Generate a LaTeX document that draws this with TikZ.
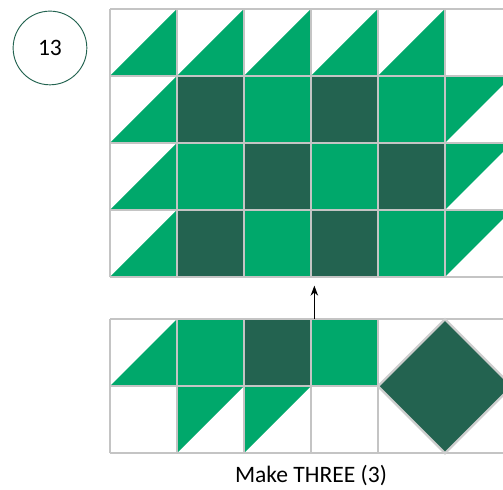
\documentclass[tikz,border=0pt]{standalone}
\usepackage{fontspec}
\setmainfont{Carlito}
\usetikzlibrary{arrows.meta}
\definecolor{quiltgreen}{HTML}{00A86B}
\definecolor{quiltdark}{HTML}{236350}
\definecolor{seam}{HTML}{C4C4C4}

\begin{document}
\begin{tikzpicture}[
  light/.style={fill=quiltgreen},
  darkbox/.style={fill=quiltdark},
  seamline/.style={draw=seam, line width=0.6pt},
  arr/.style={-{Stealth[length=1.5mm]}, line width=0.4pt},
  badge/.style={circle, draw=quiltdark, line width=0.4pt, minimum size=1.1cm, inner sep=0pt}
]
\useasboundingbox (-1.642,0.134) rectangle (5.866,-7.179);

\node[badge] (num) at (-0.896, -0.582) {13};

% block: triangles around the edge
\foreach \c in {0,...,4}
  \fill[light] (\c,-1) -- (\c+1,-1) -- (\c+1,0) -- cycle;
\foreach \r in {1,2,3} {
  \fill[light] (0,-\r-1) -- (1,-\r-1) -- (1,-\r) -- cycle;
  \fill[light] (5,-\r) -- (6,-\r) -- (5,-\r-1) -- cycle;
}
% block: squares
\fill[darkbox] (1,-1) rectangle (2,-2);
\fill[light] (2,-1) rectangle (3,-2);
\fill[darkbox] (3,-1) rectangle (4,-2);
\fill[light] (4,-1) rectangle (5,-2);
\fill[light] (1,-2) rectangle (2,-3);
\fill[darkbox] (2,-2) rectangle (3,-3);
\fill[light] (3,-2) rectangle (4,-3);
\fill[darkbox] (4,-2) rectangle (5,-3);
\fill[darkbox] (1,-3) rectangle (2,-4);
\fill[light] (2,-3) rectangle (3,-4);
\fill[darkbox] (3,-3) rectangle (4,-4);
\fill[light] (4,-3) rectangle (5,-4);
\draw[seamline] (0,-4) grid (6,0);

% one row of units
\begin{scope}[shift={(0,-4.63)}]
\fill[light] (0,-1) -- (1,-1) -- (1,0) -- cycle;
\fill[light] (1,0) rectangle (2,-1);
\fill[darkbox] (2,0) rectangle (3,-1);
\fill[light] (3,0) rectangle (4,-1);
\fill[light] (1,-1) -- (2,-1) -- (1,-2) -- cycle;
\fill[light] (2,-1) -- (3,-1) -- (2,-2) -- cycle;
\draw[seamline] (0,-2) grid (4,0);
\draw[seamline] (4,0) rectangle (6,-2);
\filldraw[darkbox, draw=seam!85, line width=1pt] (5,0) -- (6,-1) -- (5,-2) -- (4,-1) -- cycle;
\end{scope}

\coordinate (rowtop) at (3.05, -4.63);
\coordinate (blockfoot) at (3.05, -4.13);
\draw[arr] (rowtop) -- (blockfoot);

\node (make) at (3, -6.96) {Make THREE (3)};
\end{tikzpicture}
\end{document}
